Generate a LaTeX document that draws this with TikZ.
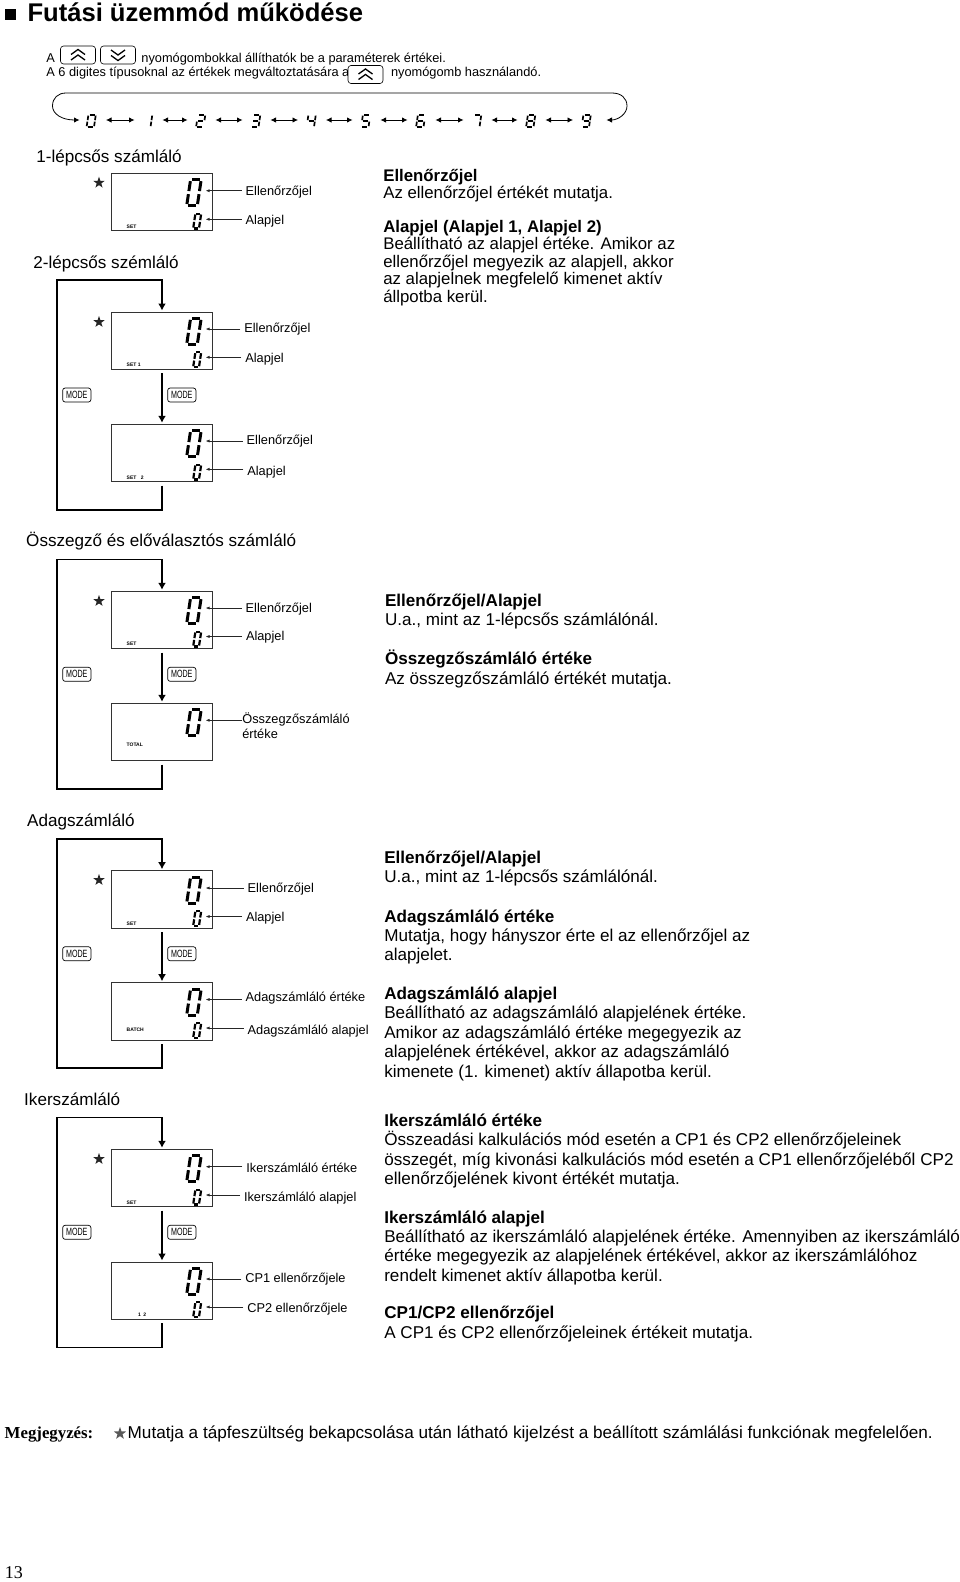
\documentclass[tikz,border=0pt]{standalone}
\usepackage{fontspec}
\setmainfont{Liberation Sans}
\newfontfamily\serifnote{Liberation Serif}
\usetikzlibrary{arrows.meta,positioning,shapes.geometric}
\newcommand\sega{\draw[segline] (.16,0) -- (.84,0);}
\newcommand\segb{\draw[segline] (1,.12) -- (1,.88);}
\newcommand\segc{\draw[segline] (1,1.12) -- (1,1.88);}
\newcommand\segd{\draw[segline] (.16,2) -- (.84,2);}
\newcommand\sege{\draw[segline] (0,1.12) -- (0,1.88);}
\newcommand\segf{\draw[segline] (0,.12) -- (0,.88);}
\newcommand\segg{\draw[segline] (.16,1) -- (.84,1);}
\newcommand\segdigit[6]{\begin{scope}[shift={(#1,#2)},x=#3pt,y=-#4pt,xslant=.15,segline/.style={line width=#5pt}]
    \edef\seglist{#6}
    \foreach \seg in \seglist {\csname seg\seg\endcsname}
    \end{scope}}
\newcommand\lcdpanel[4][53]{\node[lcdbox] (#2) at (162,#3+28.7) {};
    \node[lcdtag] (#2tag) at (126.7,#3+#1) {#4};
    \segdigit{190.6}{#3+6.3}{10.6}{13}{3}{a,b,c,d,e,f}}
\newcommand\lcdsmall[1]{\segdigit{195.4}{#1+40.3}{5.8}{7.4}{2.2}{a,b,c,d,e,f}}
\newcommand\reading[5]{\coordinate (#1tip) at (205.5,#2);
    \node[lab] (#1) at (#3-4,#4+4.4) {#5};
    \draw[lead] (#1.west |- #1tip) -- (#1tip);}
\newcommand\modeloop[5]{\node[modebtn] (#1modeL) at (76.8,#3+83) {\modetext};
    \node[modebtn] (#1modeR) at (181.8,#3+83) {\modetext};
    \coordinate (#1s) at (57.3,#4+85.4);
    \coordinate (#1n) at (57.3,#3-31.7);
    \draw[flow,shorten <=4pt,shorten >=1.5pt] (#2.south) -- (#5.north);
    \draw[flow,shorten <=4pt,shorten >=1.5pt] (#5.south) |- (#1s) -- (#1n) -| (#2.north);}
\newcommand\modetext{\scalebox{.68}[1]{MODE}}
\newcommand\chevup[1]{\draw[chev] ([shift={(-7,-.5)}]#1.center) -- ++(7,-5) -- ++(7,5);
    \draw[chev] ([shift={(-7,5)}]#1.center) -- ++(7,-5) -- ++(7,5);}
\newcommand\chevdown[1]{\draw[chev] ([shift={(-7,-5)}]#1.center) -- ++(7,5) -- ++(7,-5);
    \draw[chev] ([shift={(-7,.5)}]#1.center) -- ++(7,5) -- ++(7,-5);}
\begin{document}
\begin{tikzpicture}[x=1pt,y=-1pt]
    \tikzstyle{every node}=[inner sep=0pt,outer sep=0pt,font=\fontsize{12.8}{15}\selectfont]
    \tikzstyle{lcdbox}=[draw=black!80,line width=.8pt,minimum width=101.4pt,minimum height=57.4pt]
    \tikzstyle{lcdtag}=[anchor=west,font=\bfseries\fontsize{5}{5}\selectfont]
    \tikzstyle{lab}=[anchor=base west,inner xsep=4pt]
    \tikzstyle{lead}=[black!85,line width=.7pt,-{Latex[length=4pt,width=3pt]}]
    \tikzstyle{flow}=[line width=1.7pt,-{Latex[length=7pt,width=8pt]}]
    \tikzstyle{modebtn}=[draw,line width=.7pt,rounded corners=2.5pt,minimum width=28.3pt,minimum height=14pt,font=\fontsize{10.5}{11}\selectfont]
    \tikzstyle{keybtn}=[draw,fill=white,line width=.6pt,rounded corners=3pt,minimum width=35pt,minimum height=18pt]
    \tikzstyle{chev}=[line width=1.3pt]
    \tikzstyle{head}=[anchor=base west,font=\fontsize{17.1}{20}\selectfont]
    \tikzstyle{note}=[anchor=north west,align=left,font=\fontsize{17.1}{19.4}\selectfont]
    \tikzstyle{starmark}=[star,star points=5,star point ratio=2.5,fill=black!85,minimum size=12pt]
    \tikzstyle{rowarrow}=[line width=.8pt,{Latex[length=5.5pt,width=5.5pt]}-{Latex[length=5.5pt,width=5.5pt]}]
    \useasboundingbox (0,0) rectangle (960,1582);

    \node[fill=black,minimum size=11.5pt] (bullet) at (10.5,14.5) {};
    \node[anchor=base west,font=\bfseries\fontsize{25.6}{28}\selectfont] (title) at (27.5,21.7) {Futási üzemmód működése};
    \node[anchor=base west] (intro1) at (46.3,62.5) {A};
    \node[anchor=base west] (intro2) at (141.4,62.5) {nyomógombokkal állíthatók be a paraméterek értékei.};
    \node[anchor=base west] (intro3) at (46.3,76) {A 6 digites típusoknal az értékek megváltoztatására a};
    \node[anchor=base west] (intro4) at (391,76) {nyomógomb használandó.};
    \node[keybtn] (keyup) at (78,55) {};
    \node[keybtn] (keydown) at (118,55) {};
    \node[keybtn] (keyupb) at (365.5,74.5) {};
    \chevup{keyup}
    \chevdown{keydown}
    \chevup{keyupb}

    \foreach \n/\x/\segs in {0/92/{a,b,c,d,e,f},1/148.5/{b,c},2/201.5/{a,b,g,e,d},3/256.5/{a,b,g,c,d},4/312/{f,g,b,c},5/366.5/{a,f,g,c,d},6/421.5/{a,f,g,c,d,e},7/477.5/{a,b,c},8/531.5/{a,b,c,d,e,f,g},9/587/{a,b,f,g,c,d}} {
        \coordinate (row\n) at (\x,120);
        \segdigit{\x-3.6}{114.9}{7.4}{6}{1.7}{\segs}
    }
    \foreach \a/\b in {0/1,1/2,2/3,3/4,4/5,5/6,6/7,7/8,8/9}
        \draw[rowarrow,shorten <=14pt,shorten >=14pt] (row\a) -- (row\b);
    \draw[line width=.8pt,{Latex[length=5.5pt,width=5.5pt]}-{Latex[length=5.5pt,width=5.5pt]},shorten <=12.5pt,shorten >=19.5pt] (row0) .. controls (62,120) and (52.5,114) .. (52.5,106) .. controls (52.5,98) and (58,93) .. (66,93) -- (612,93) .. controls (621,93) and (627,98) .. (627,106) .. controls (627,114) and (618,120) .. (row9);

    \node[head] (headA) at (36.3,162) {1-lépcsős számláló};
    \node[head] (headB) at (33.3,268.3) {2-lépcsős szémláló};
    \node[head] (headC) at (26.2,546) {Összegző és előválasztós számláló};
    \node[head] (headD) at (27.2,826.5) {Adagszámláló};
    \node[head] (headE) at (24.2,1105.5) {Ikerszámláló};

    \lcdpanel{lcdA}{173.3}{SET}
    \lcdsmall{173.3}
    \node[starmark] (starA) at (99,182.7) {};
    \reading{labA}{190.7}{245.7}{191}{Ellenőrzőjel}
    \reading{labB}{219.3}{245.7}{220.3}{Alapjel}

    \lcdpanel{lcdB}{312}{SET 1}
    \lcdsmall{312}
    \node[starmark] (starB) at (99,322) {};
    \reading{labC}{329}{244.3}{328}{Ellenőrzőjel}
    \reading{labD}{357.3}{245.3}{358.3}{Alapjel}
    \lcdpanel{lcdC}{424.3}{SET\hspace{4.5pt}2}
    \lcdsmall{424.3}
    \reading{labE}{441}{246.7}{440}{Ellenőrzőjel}
    \reading{labF}{469.3}{247.3}{470.7}{Alapjel}
    \modeloop{loopA}{lcdB}{312}{424.3}{lcdC}

    \lcdpanel[52.7]{lcdD}{591.3}{SET}
    \lcdsmall{591.3}
    \node[starmark] (starD) at (99,601) {};
    \reading{labG}{608}{245.7}{608.3}{Ellenőrzőjel}
    \reading{labH}{636.5}{246}{635.7}{Alapjel}
    \lcdpanel[41.4]{lcdE}{703.3}{TOTAL}
    \coordinate (labItip) at (205.5,720.3);
    \node[anchor=north west,align=left,font=\fontsize{12.8}{15}\selectfont] (labI) at (242.3,712.5) {Összegzőszámláló\\értéke};
    \draw[lead] (labI.west |- labItip) -- (labItip);
    \modeloop{loopB}{lcdD}{591.3}{703.3}{lcdE}

    \lcdpanel{lcdF}{870.7}{SET}
    \lcdsmall{870.7}
    \node[starmark] (starF) at (99,880) {};
    \reading{labJ}{888}{247.7}{888.3}{Ellenőrzőjel}
    \reading{labK}{916.5}{246}{916.7}{Alapjel}
    \lcdpanel[46.6]{lcdG}{982.7}{BATCH}
    \lcdsmall{982.7}
    \reading{labL}{999.5}{245.7}{997.3}{Adagszámláló értéke}
    \reading{labM}{1028}{247.7}{1030}{Adagszámláló alapjel}
    \modeloop{loopC}{lcdF}{870.7}{982.7}{lcdG}

    \lcdpanel{lcdH}{1149.3}{SET}
    \lcdsmall{1149.3}
    \node[starmark] (starH) at (99,1159) {};
    \reading{labN}{1166.7}{246.3}{1168}{Ikerszámláló értéke}
    \reading{labO}{1195}{244}{1197.3}{Ikerszámláló alapjel}
    \lcdpanel{lcdI}{1262}{\hspace{11.5pt}1\hspace{2.5pt}2}
    \lcdsmall{1262}
    \reading{labP}{1279}{245.3}{1278.3}{CP1 ellenőrzőjele}
    \reading{labQ}{1307}{247.3}{1308}{CP2 ellenőrzőjele}
    \modeloop{loopD}{lcdH}{1149.3}{1262}{lcdI}

    \node[note,font=\fontsize{16.8}{17.5}\selectfont] (noteA) at (383.3,169) {\textbf{Ellenőrzőjel}\\Az ellenőrzőjel értékét mutatja.};
    \node[note,font=\fontsize{16.8}{17.5}\selectfont] (noteB) at (383.3,220) {\textbf{Alapjel (Alapjel 1, Alapjel 2)}\\Beállítható az alapjel értéke. Amikor az\\ellenőrzőjel megyezik az alapjell, akkor\\az alapjelnek megfelelő kimenet aktív\\állpotba kerül.};
    \node[note] (noteC) at (385,594) {\textbf{Ellenőrzőjel/Alapjel}\\U.a., mint az 1-lépcsős számlálónál.};
    \node[note] (noteD) at (385,650) {\textbf{Összegzőszámláló értéke}\\Az összegzőszámláló értékét mutatja.};
    \node[note] (noteE) at (384.3,851) {\textbf{Ellenőrzőjel/Alapjel}\\U.a., mint az 1-lépcsős számlálónál.};
    \node[note] (noteF) at (384.3,909.5) {\textbf{Adagszámláló értéke}\\Mutatja, hogy hányszor érte el az ellenőrzőjel az\\alapjelet.};
    \node[note] (noteG) at (384.3,987) {\textbf{Adagszámláló alapjel}\\Beállítható az adagszámláló alapjelének értéke.\\Amikor az adagszámláló értéke megegyezik az\\alapjelének értékével, akkor az adagszámláló\\kimenete (1. kimenet) aktív állapotba kerül.};
    \node[note] (noteH) at (384.3,1114) {\textbf{Ikerszámláló értéke}\\Összeadási kalkulációs mód esetén a CP1 és CP2 ellenőrzőjeleinek\\összegét, míg kivonási kalkulációs mód esetén a CP1 ellenőrzőjeléből CP2\\ellenőrzőjelének kivont értékét mutatja.};
    \node[note] (noteI) at (384.3,1210.5) {\textbf{Ikerszámláló alapjel}\\Beállítható az ikerszámláló alapjelének értéke. Amennyiben az ikerszámláló\\értéke megegyezik az alapjelének értékével, akkor az ikerszámlálóhoz\\rendelt kimenet aktív állapotba kerül.};
    \node[note] (noteJ) at (384.3,1306.5) {\textbf{CP1/CP2 ellenőrzőjel}\\A CP1 és CP2 ellenőrzőjeleinek értékeit mutatja.};

    \node[anchor=base west,font=\serifnote\bfseries\fontsize{16.8}{18}\selectfont] (memo) at (4.7,1438) {Megjegyzés:};
    \node[starmark,fill=black!65,minimum size=13pt] (starN) at (120,1433.5) {};
    \node[anchor=base west,font=\fontsize{17.16}{20}\selectfont] (memotext) at (127.7,1438) {Mutatja a tápfeszültség bekapcsolása után látható kijelzést a beállított számlálási funkciónak megfelelően.};
    \node[anchor=base west,font=\serifnote\fontsize{18}{20}\selectfont] (pagenum) at (5,1578.5) {13};
\end{tikzpicture}
\end{document}
